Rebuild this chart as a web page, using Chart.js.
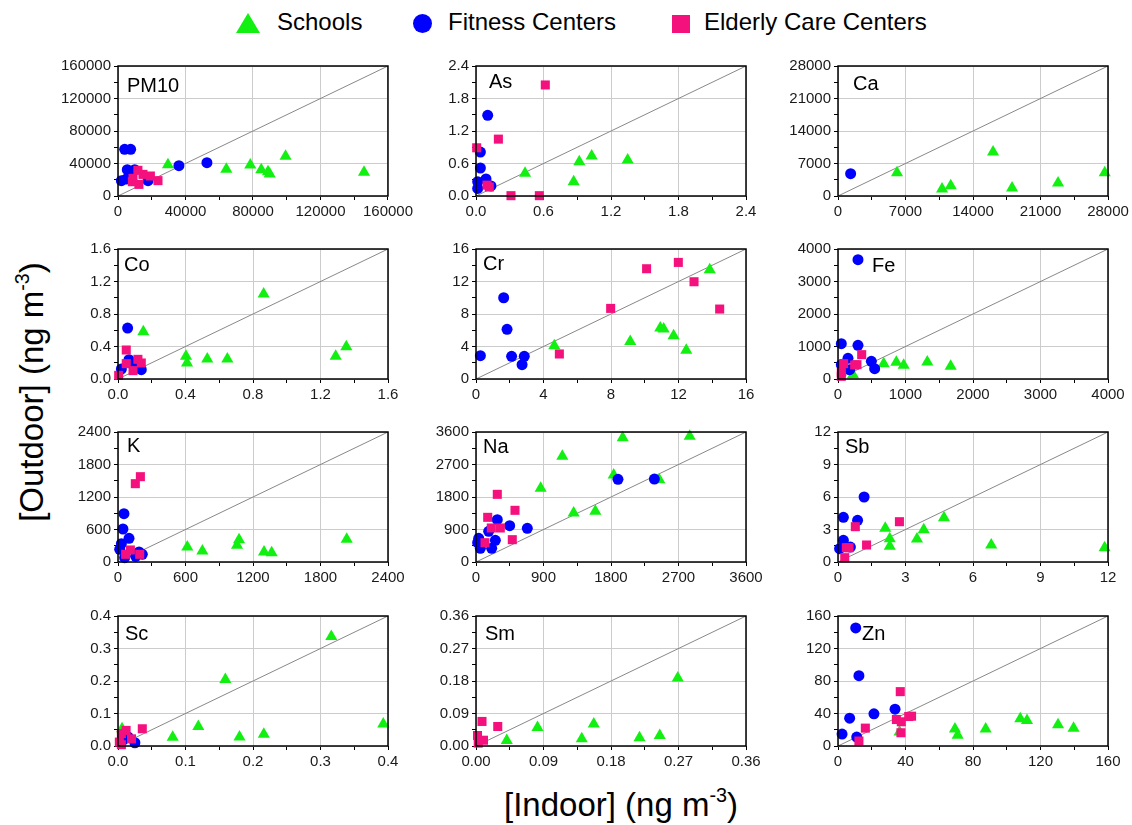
<!DOCTYPE html>
<html>
<head>
<meta charset="utf-8">
<script src="https://cdn.jsdelivr.net/npm/chart.js@4.4.0/dist/chart.umd.min.js"></script>
<style>
  body { margin: 0; background: #fff; font-family: Arial, "Liberation Sans", sans-serif; }
  #wrap { position: relative; width: 1132px; height: 825px; overflow: hidden; }
  canvas { position: absolute; }
  .leg { position: absolute; top: 8px; font-size: 24px; color: #000; line-height: 28px; }
  .mk { position: absolute; }
  .ytitle { position: absolute; left: 32px; top: 392px; font-size: 33px; white-space: nowrap;
            transform: translate(-50%, -50%) rotate(-90deg); }
  .xtitle { position: absolute; left: 621px; top: 805px; font-size: 33px; white-space: nowrap;
            transform: translate(-50%, -50%); }
  sup { font-size: 60%; vertical-align: 0.7em; line-height: 0; }
</style>
</head>
<body>
<div id="wrap">
  <div class="mk" style="left:236px;top:13px;width:0;height:0;border-left:12px solid transparent;border-right:12px solid transparent;border-bottom:20px solid #11f011;"></div>
  <div class="leg" style="left:277px;">Schools</div>
  <div class="mk" style="left:413px;top:14px;width:19px;height:19px;border-radius:50%;background:#0000ff;"></div>
  <div class="leg" style="left:448px;">Fitness Centers</div>
  <div class="mk" style="left:672px;top:15px;width:18px;height:18px;background:#f5117d;"></div>
  <div class="leg" style="left:704px;">Elderly Care Centers</div>
  <div class="ytitle">[Outdoor] (ng m<sup>-3</sup>)</div>
  <div class="xtitle">[Indoor] (ng m<sup>-3</sup>)</div>
</div>
<script>
// Panel names, axis ranges and tick label decimals
const elements = ['PM10', 'As', 'Ca', 'Co', 'Cr', 'Fe', 'K', 'Na', 'Sb', 'Sc', 'Sm', 'Zn'];
const axisMax = [160000, 2.4, 28000, 1.6, 16, 4000, 2400, 3600, 12, 0.4, 0.36, 160];
const tickDecimals = [0, 1, 0, 1, 0, 0, 0, 0, 0, 1, 2, 0];

// [indoor, outdoor] pairs per element
const pm10School = [[29600,38500],[64200,32800],[78400,38100],[84900,32400],[88900,30000],[89900,27000],[99300,48800],[145800,29100]];
const pm10Fitness = [[3950,57400],[7500,57400],[5500,32400],[9900,32400],[2000,18900],[4900,20900],[17800,18900],[36100,37300],[52700,41000]];
const pm10Elderly = [[11800,31600],[14800,26600],[19200,24600],[23700,18900],[8500,17600],[12400,14300],[8900,21700]];

const asSchool = [[0.436,0.418],[0.868,0.265],[0.918,0.634],[1.028,0.738],[1.348,0.665]];
const asFitness = [[0.104,1.489],[0.039,0.812],[0.039,0.517],[0.089,0.314],[0.015,0.265],[0.015,0.14],[0.133,0.185]];
const asElderly = [[0.616,2.05],[0.199,1.05],[0.006,0.89],[0.098,0.2],[0.118,0.166],[0.311,0.006],[0.563,0.006]];

const caSchool = [[6120,5030],[10790,1510],[11690,2230],[16080,9480],[18050,1720],[22820,2800],[27660,5030]];
const caFitness = [[1310,4810]];
const caElderly = [];

const coSchool = [[0.863,1.046],[0.150,0.582],[0.403,0.279],[0.409,0.197],[0.529,0.246],[0.648,0.246],[1.29,0.279],[1.353,0.398]];
const coFitness = [[0.057,0.627],[0.065,0.238],[0.02,0.123],[0.138,0.115],[0.089,0.176]];
const coElderly = [[0.049,0.357],[0.049,0.189],[0.118,0.242],[0.138,0.197],[0.089,0.103],[0.004,0.045]];

const crSchool = [[4.64,4.1],[9.14,4.63],[10.92,6.27],[11.12,6.15],[11.71,5.33],[12.46,3.53],[13.85,13.45]];
const crFitness = [[1.64,10.0],[1.84,6.11],[0.26,2.87],[2.11,2.79],[2.86,2.79],[2.73,1.76]];
const crElderly = [[10.11,13.57],[11.99,14.35],[12.92,11.97],[14.44,8.61],[7.98,8.69],[4.94,3.08]];

const feSchool = [[222,133],[677,472],[864,513],[973,421],[1323,523],[1669,390]];
const feFitness = [[296,3673],[49,1088],[296,1036],[148,636],[494,544],[543,318],[49,441],[173,287]];
const feElderly = [[351,749],[84,472],[247,431],[281,441],[49,205],[49,82]];

const kSchool = [[616,277],[750,203],[1058,308],[1076,412],[1298,185],[1366,172],[2033,418]];
const kFitness = [[53,892],[44,609],[98,437],[30,338],[15,234],[187,185],[216,142],[157,105],[59,80]];
const kElderly = [[199,1575],[154,1446],[110,222],[68,142],[193,142]];

const naSchool = [[1956,3443],[2849,3480],[1151,2926],[1836,2409],[2444,2280],[862,2040],[1302,1357],[1591,1403]];
const naFitness = [[1893,2289],[2378,2298],[284,1172],[169,849],[449,1006],[684,932],[258,600],[36,655],[58,378],[209,378],[22,535]];
const naElderly = [[284,1874],[520,1431],[156,1237],[204,942],[324,942],[484,618],[120,535]];

const sbSchool = [[2.10,3.11],[3.81,2.98],[4.71,4.09],[2.30,2.15],[2.30,1.45],[3.51,2.12],[6.81,1.57],[11.85,1.32]];
const sbFitness = [[1.16,6.0],[0.24,4.12],[0.87,3.85],[0.24,2.0],[0.07,1.23],[0.55,1.38]];
const sbElderly = [[2.73,3.72],[0.77,3.26],[1.27,1.57],[0.37,1.32],[0.49,1.32],[0.30,0.4]];

const scSchool = [[0.316,0.337],[0.159,0.205],[0.119,0.060],[0.081,0.027],[0.180,0.028],[0.216,0.036],[0.393,0.068],[0.006,0.053]];
const scFitness = [[0.015,0.028],[0.025,0.010],[0.007,0.017]];
const scElderly = [[0.036,0.053],[0.012,0.048],[0.005,0.038],[0.020,0.022],[0.002,0.012],[0.005,0.004]];

const smSchool = [[0.269,0.188],[0.082,0.051],[0.157,0.061],[0.041,0.015],[0.141,0.020],[0.218,0.023],[0.245,0.029]];
const smFitness = [];
const smElderly = [[0.008,0.068],[0.029,0.054],[0.002,0.029],[0.010,0.016],[0.003,0.008]];

const znSchool = [[69.3,20.8],[70.9,13.1],[87.5,20.8],[108.0,33.5],[112.0,31.4],[130.4,26.1],[139.6,22.0],[36.5,17.1]];
const znFitness = [[10.5,145.3],[12.4,86.5],[6.9,34.3],[21.3,39.6],[33.8,45.3],[2.4,14.7],[11.1,11.0]];
const znElderly = [[36.9,66.9],[34.6,32.6],[37.5,29.8],[41.9,36.3],[43.6,36.7],[16.2,22.0],[37.3,16.3],[12.4,6.1]];

const schoolSets = [pm10School, asSchool, caSchool, coSchool, crSchool, feSchool, kSchool, naSchool, sbSchool, scSchool, smSchool, znSchool];
const fitnessSets = [pm10Fitness, asFitness, caFitness, coFitness, crFitness, feFitness, kFitness, naFitness, sbFitness, scFitness, smFitness, znFitness];
const elderlySets = [pm10Elderly, asElderly, caElderly, coElderly, crElderly, feElderly, kElderly, naElderly, sbElderly, scElderly, smElderly, znElderly];

// Layout of the plot areas
const colLeft = [118, 476, 838];
const rowTop = [66, 249, 432, 616];
const plotW = 270, plotH = 130;
const yAxisW = 60, xAxisH = 28, padTop = 12, padRight = 28;
const labelOffset = [[9,26],[13,22],[15,24],[6,22],[7,21],[34,23],[9,20],[7,21],[7,21],[7,24],[9,24],[24,24]];

const FONT = 'Arial, "Liberation Sans", sans-serif';

const toPts = arr => arr.map(p => ({ x: p[0], y: p[1] }));

// Frame around plot area and element name
const framePlugin = {
  id: 'frame',
  afterDraw(chart, args, opts) {
    const a = chart.chartArea;
    const ctx = chart.ctx;
    ctx.save();
    ctx.strokeStyle = '#000';
    ctx.lineWidth = 1.5;
    ctx.strokeRect(a.left, a.top, a.right - a.left, a.bottom - a.top);
    ctx.fillStyle = '#000';
    ctx.font = '20px ' + FONT;
    ctx.textBaseline = 'alphabetic';
    ctx.fillText(opts.label, a.left + opts.dx, a.top + opts.dy);
    ctx.restore();
  }
};

function axisOptions(max, dec) {
  return {
    type: 'linear',
    min: 0,
    max: max,
    border: { display: false },
    grid: {
      color: ctx => (ctx.index % 2 === 0 ? '#cccccc' : 'rgba(0,0,0,0)'),
      lineWidth: 1,
      drawTicks: true,
      tickLength: 4,
      tickColor: '#000',
      tickWidth: 1
    },
    ticks: {
      stepSize: max / 8,
      autoSkip: false,
      maxRotation: 0,
      padding: 3,
      color: '#1a1a1a',
      font: { family: FONT, size: 15 },
      callback: (v, i) => (i % 2 === 0 ? Number(v).toFixed(dec) : '')
    }
  };
}

const wrap = document.getElementById('wrap');

elements.forEach((name, i) => {
  const col = i % 3, row = Math.floor(i / 3);
  const canvas = document.createElement('canvas');
  canvas.width = yAxisW + plotW + padRight;
  canvas.height = padTop + plotH + xAxisH;
  canvas.style.left = (colLeft[col] - yAxisW) + 'px';
  canvas.style.top = (rowTop[row] - padTop) + 'px';
  wrap.appendChild(canvas);

  const max = axisMax[i];
  const xOpts = axisOptions(max, tickDecimals[i]);
  xOpts.afterFit = s => { s.height = xAxisH; };
  const yOpts = axisOptions(max, tickDecimals[i]);
  yOpts.afterFit = s => { s.width = yAxisW; };

  new Chart(canvas, {
    type: 'scatter',
    data: {
      datasets: [
        {
          label: 'Elderly Care Centers',
          data: toPts(elderlySets[i]),
          pointStyle: 'rect',
          pointRadius: 6.4,
          backgroundColor: '#f5117d',
          borderWidth: 0,
          clip: false
        },
        {
          label: 'Fitness Centers',
          data: toPts(fitnessSets[i]),
          pointStyle: 'circle',
          pointRadius: 5.5,
          backgroundColor: '#0000ff',
          borderWidth: 0,
          clip: false
        },
        {
          label: 'Schools',
          data: toPts(schoolSets[i]),
          pointStyle: 'triangle',
          pointRadius: 7,
          backgroundColor: '#11f011',
          borderWidth: 0,
          clip: false
        },
        {
          label: '1:1',
          data: [{ x: 0, y: 0 }, { x: max, y: max }],
          showLine: true,
          borderColor: '#888888',
          borderWidth: 1,
          pointRadius: 0
        }
      ]
    },
    options: {
      responsive: false,
      animation: false,
      devicePixelRatio: 1,
      layout: { padding: { top: padTop, right: padRight, left: 0, bottom: 0 } },
      plugins: {
        legend: { display: false },
        tooltip: { enabled: false },
        frame: { label: name, dx: labelOffset[i][0], dy: labelOffset[i][1] }
      },
      scales: { x: xOpts, y: yOpts }
    },
    plugins: [framePlugin]
  });
});
</script>
</body>
</html>
